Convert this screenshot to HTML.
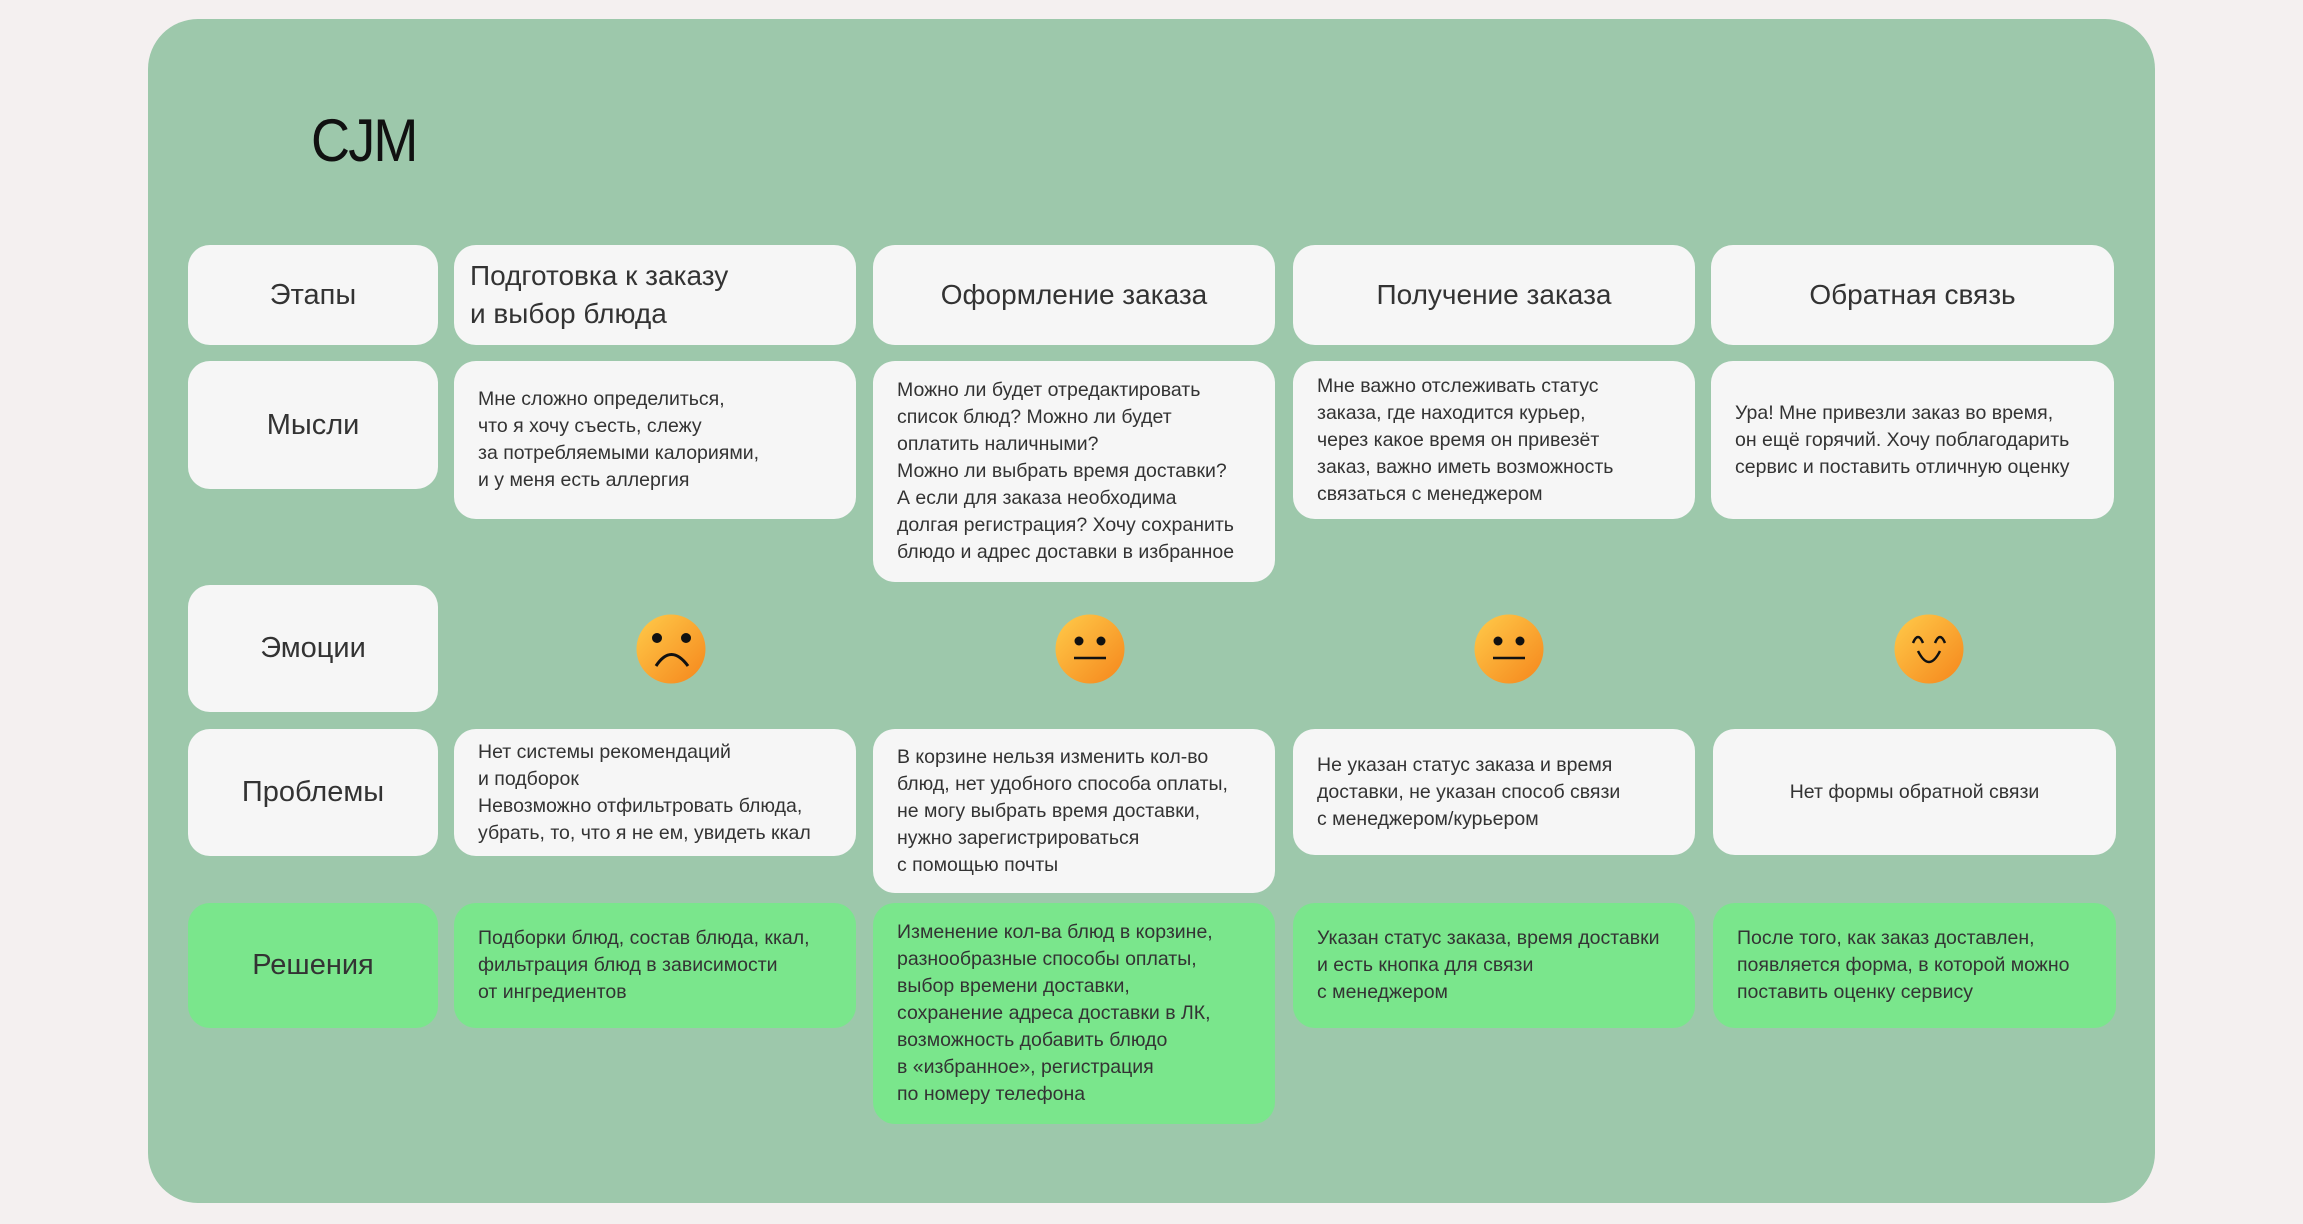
<!DOCTYPE html>
<html><head><meta charset="utf-8"><style>
*{margin:0;padding:0;box-sizing:border-box}
body{width:2303px;height:1224px;background:#f4f0f0;position:relative;overflow:hidden;font-family:"Liberation Sans","DejaVu Sans",sans-serif;color:#333}
.panel{position:absolute;left:148px;top:19px;width:2007px;height:1184px;background:#9dc8ab;border-radius:50px}
.t{position:absolute;left:311px;top:106px;font-size:60px;color:#111;letter-spacing:-2px;transform:scaleX(0.9);transform-origin:left}
.c{position:absolute;background:#f6f6f6;border-radius:22px;display:flex;align-items:center;font-size:19.5px;line-height:27px;padding-left:24px}
.g{background:#7ae68c}
.l{justify-content:center;padding:0;font-size:29px}
.h{justify-content:center;padding:0;font-size:28px;line-height:38px}
.f{position:absolute;width:72px;height:72px}
</style></head><body>
<div class="panel"></div>
<div class="t">CJM</div>

<div class="c l" style="left:188px;top:245px;width:250px;height:100px">Этапы</div>
<div class="c" style="left:454px;top:245px;width:402px;height:100px;font-size:28px;line-height:38px;padding-left:16px">Подготовка к заказу<br>и выбор блюда</div>
<div class="c h" style="left:873px;top:245px;width:402px;height:100px">Оформление заказа</div>
<div class="c h" style="left:1293px;top:245px;width:402px;height:100px">Получение заказа</div>
<div class="c h" style="left:1711px;top:245px;width:403px;height:100px">Обратная связь</div>

<div class="c l" style="left:188px;top:361px;width:250px;height:128px">Мысли</div>
<div class="c" style="left:454px;top:361px;width:402px;height:158px">Мне сложно определиться,<br>что я хочу съесть, слежу<br>за потребляемыми калориями,<br>и у меня есть аллергия</div>
<div class="c" style="left:873px;top:361px;width:402px;height:221px">Можно ли будет отредактировать<br>список блюд? Можно ли будет<br>оплатить наличными?<br>Можно ли выбрать время доставки?<br>А если для заказа необходима<br>долгая регистрация? Хочу сохранить<br>блюдо и адрес доставки в избранное</div>
<div class="c" style="left:1293px;top:361px;width:402px;height:158px">Мне важно отслеживать статус<br>заказа, где находится курьер,<br>через какое время он привезёт<br>заказ, важно иметь возможность<br>связаться с менеджером</div>
<div class="c" style="left:1711px;top:361px;width:403px;height:158px">Ура! Мне привезли заказ во время,<br>он ещё горячий. Хочу поблагодарить<br>сервис и поставить отличную оценку</div>

<div class="c l" style="left:188px;top:585px;width:250px;height:127px">Эмоции</div>
<svg width="0" height="0" style="position:absolute"><defs><linearGradient id="og" x1="0" y1="0" x2="1" y2="1"><stop offset="0" stop-color="#ffcb4a"/><stop offset="1" stop-color="#f5861c"/></linearGradient></defs></svg>
<svg class="f" style="left:635px;top:613px" viewBox="0 0 72 72"><circle cx="36" cy="36" r="34.5" fill="url(#og)"/><circle cx="22" cy="25" r="5" fill="#111"/><circle cx="51" cy="25" r="5" fill="#111"/><path d="M21 53 Q36 30 53 53" fill="none" stroke="#111" stroke-width="3"/></svg>
<svg class="f" style="left:1054px;top:613px" viewBox="0 0 72 72"><circle cx="36" cy="36" r="34.5" fill="url(#og)"/><circle cx="25" cy="28" r="4.5" fill="#111"/><circle cx="47" cy="28" r="4.5" fill="#111"/><path d="M20 45 H52" stroke="#111" stroke-width="2.5"/></svg>
<svg class="f" style="left:1473px;top:613px" viewBox="0 0 72 72"><circle cx="36" cy="36" r="34.5" fill="url(#og)"/><circle cx="25" cy="28" r="4.5" fill="#111"/><circle cx="47" cy="28" r="4.5" fill="#111"/><path d="M20 45 H52" stroke="#111" stroke-width="2.5"/></svg>
<svg class="f" style="left:1893px;top:613px" viewBox="0 0 72 72"><circle cx="36" cy="36" r="34.5" fill="url(#og)"/><path d="M20 30 Q25 18 30 30 M42 30 Q47 18 52 30" fill="none" stroke="#111" stroke-width="2.5"/><path d="M25 38 Q36 60 47 38" fill="none" stroke="#111" stroke-width="2.5"/></svg>

<div class="c l" style="left:188px;top:729px;width:250px;height:127px">Проблемы</div>
<div class="c" style="left:454px;top:729px;width:402px;height:127px">Нет системы рекомендаций<br>и подборок<br>Невозможно отфильтровать блюда,<br>убрать, то, что я не ем, увидеть ккал</div>
<div class="c" style="left:873px;top:729px;width:402px;height:164px">В корзине нельзя изменить кол-во<br>блюд, нет удобного способа оплаты,<br>не могу выбрать время доставки,<br>нужно зарегистрироваться<br>с помощью почты</div>
<div class="c" style="left:1293px;top:729px;width:402px;height:126px">Не указан статус заказа и время<br>доставки, не указан способ связи<br>с менеджером/курьером</div>
<div class="c" style="left:1713px;top:729px;width:403px;height:126px;justify-content:center;padding:0">Нет формы обратной связи</div>

<div class="c l g" style="left:188px;top:903px;width:250px;height:125px">Решения</div>
<div class="c g" style="left:454px;top:903px;width:402px;height:125px">Подборки блюд, состав блюда, ккал,<br>фильтрация блюд в зависимости<br>от ингредиентов</div>
<div class="c g" style="left:873px;top:903px;width:402px;height:221px">Изменение кол-ва блюд в корзине,<br>разнообразные способы оплаты,<br>выбор времени доставки,<br>сохранение адреса доставки в ЛК,<br>возможность добавить блюдо<br>в «избранное», регистрация<br>по номеру телефона</div>
<div class="c g" style="left:1293px;top:903px;width:402px;height:125px">Указан статус заказа, время доставки<br>и есть кнопка для связи<br>с менеджером</div>
<div class="c g" style="left:1713px;top:903px;width:403px;height:125px">После того, как заказ доставлен,<br>появляется форма, в которой можно<br>поставить оценку сервису</div>
</body></html>
